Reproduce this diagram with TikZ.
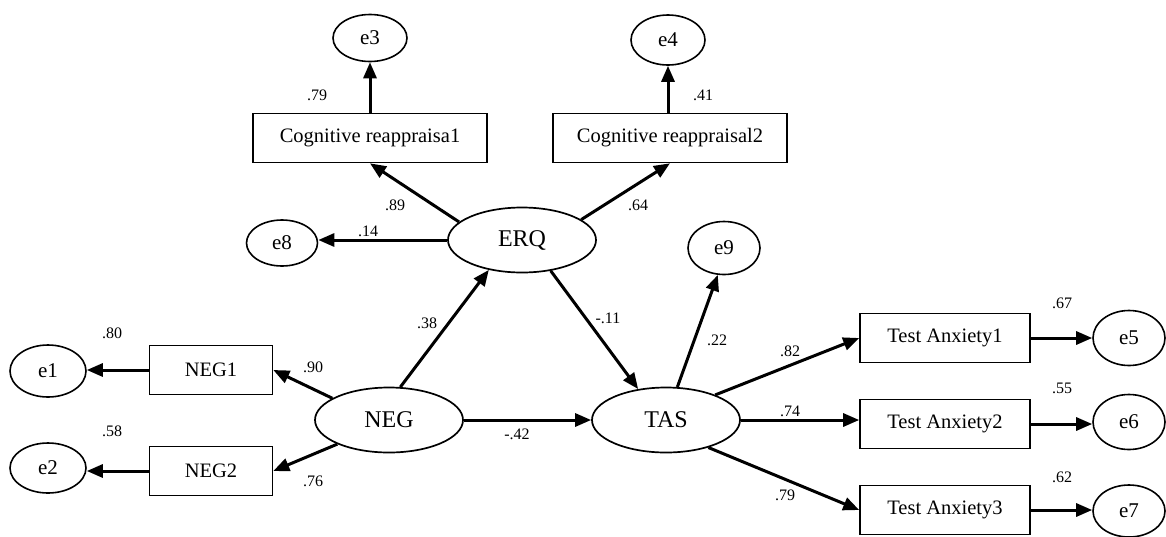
\documentclass[tikz,border=0pt]{standalone}
\usepackage{fontspec}
\setmainfont{Liberation Serif}
\usetikzlibrary{shapes.geometric,arrows.meta}
\begin{document}
\begin{tikzpicture}[x=1pt,y=-1pt,
 lat/.style={ellipse,draw,line width=1.7pt,minimum width=148pt,minimum height=65pt,inner sep=0pt,font=\fontsize{24}{28}\selectfont},
 err/.style={ellipse,draw,line width=1.6pt,minimum width=74pt,minimum height=50pt,inner sep=0pt,font=\fontsize{21}{24}\selectfont},
 obs/.style={rectangle,draw,line width=1.6pt,minimum height=49pt,inner sep=0pt,font=\fontsize{20.5}{24}\selectfont},
 arr/.style={line width=3pt,-{Triangle[length=16pt,width=13pt]}},
 coef/.style={font=\fontsize{16}{18}\selectfont,inner sep=0pt}
]
\path[use as bounding box] (0,0) rectangle (1166,536);

% latent variables
\node[lat] (ERQ) at (522,240) {ERQ};
\node[lat] (NEG) at (389,420) {NEG};
\node[lat] (TAS) at (666,420) {TAS};

% observed
\node[obs,minimum width=234pt] (CR1) at (370,138) {Cognitive reappraisa1};
\node[obs,minimum width=234pt] (CR2) at (670,138) {Cognitive reappraisal2};
\node[obs,minimum width=123pt] (NEG1) at (211,370) {NEG1};
\node[obs,minimum width=123pt] (NEG2) at (211,471) {NEG2};
\node[obs,minimum width=170pt] (TA1) at (945,338) {Test Anxiety1};
\node[obs,minimum width=170pt] (TA2) at (945,424) {Test Anxiety2};
\node[obs,minimum width=170pt] (TA3) at (945,510) {Test Anxiety3};

% errors
\node[err,minimum height=47pt] (e3) at (370,38) {e3};
\node[err] (e4) at (668,40) {e4};
\node[err,minimum width=71pt,minimum height=46pt] (e8) at (282,243) {e8};
\node[err,minimum width=72pt,minimum height=53pt] (e9) at (724,248) {e9};
\node[err,minimum width=76pt,minimum height=52pt] (e1) at (48,371) {e1};
\node[err,minimum width=76pt,minimum height=50pt] (e2) at (48,468) {e2};
\node[err,minimum width=72pt,minimum height=55pt] (e5) at (1129,338) {e5};
\node[err,minimum width=72pt,minimum height=55pt] (e6) at (1129,422) {e6};
\node[err,minimum width=72pt,minimum height=52pt] (e7) at (1129,511) {e7};

% paths
\draw[arr] (CR1.north) -- (e3.south);
\draw[arr] (CR2.north -| e4.south) -- (e4.south);
\draw[arr] (ERQ.164) -- (CR1.south);
\draw[arr] (ERQ.19) -- (CR2.south);
\draw[arr] (ERQ.west) -- (ERQ.west -| e8.east);
\draw[arr] (NEG.71) -- (ERQ.222);
\draw[arr] (ERQ.313) -- (TAS.132);
\draw[arr] (TAS.71) -- (e9.257);
\draw[arr] (NEG.east) -- (TAS.west);
\draw[arr] (NEG.159) -- (NEG1.east);
\draw[arr] (NEG.205) -- (NEG2.east);
\draw[arr] (NEG1.west) -- (NEG1.west -| e1.east);
\draw[arr] (NEG2.west) -- (NEG2.west -| e2.east);
\draw[arr] (TAS.27) -- (TA1.west);
\draw[arr] (TAS.east) -- (TAS.east -| TA2.west);
\draw[arr] (TAS.327) -- (TA3.west);
\draw[arr] (TA1.east) -- (TA1.east -| e5.west);
\draw[arr] (TA2.east) -- (TA2.east -| e6.west);
\draw[arr] (TA3.east) -- (TA3.east -| e7.west);

% coefficients
\node[coef] (c79a) at (317,95) {.79};
\node[coef] (c41) at (703,95) {.41};
\node[coef] (c89) at (395,205) {.89};
\node[coef] (c64) at (638,205) {.64};
\node[coef] (c14) at (368,231) {.14};
\node[coef] (c38) at (427,323) {.38};
\node[coef] (c11) at (608,318) {-.11};
\node[coef] (c22) at (717,340) {.22};
\node[coef] (c42) at (517,434) {-.42};
\node[coef] (c80) at (112,333) {.80};
\node[coef] (c58) at (112,431) {.58};
\node[coef] (c90) at (313,367) {.90};
\node[coef] (c76) at (313,481) {.76};
\node[coef] (c82) at (790,351) {.82};
\node[coef] (c74) at (790,411) {.74};
\node[coef] (c79b) at (785,495) {.79};
\node[coef] (c67) at (1062,303) {.67};
\node[coef] (c55) at (1062,388) {.55};
\node[coef] (c62) at (1062,477) {.62};
\end{tikzpicture}
\end{document}
